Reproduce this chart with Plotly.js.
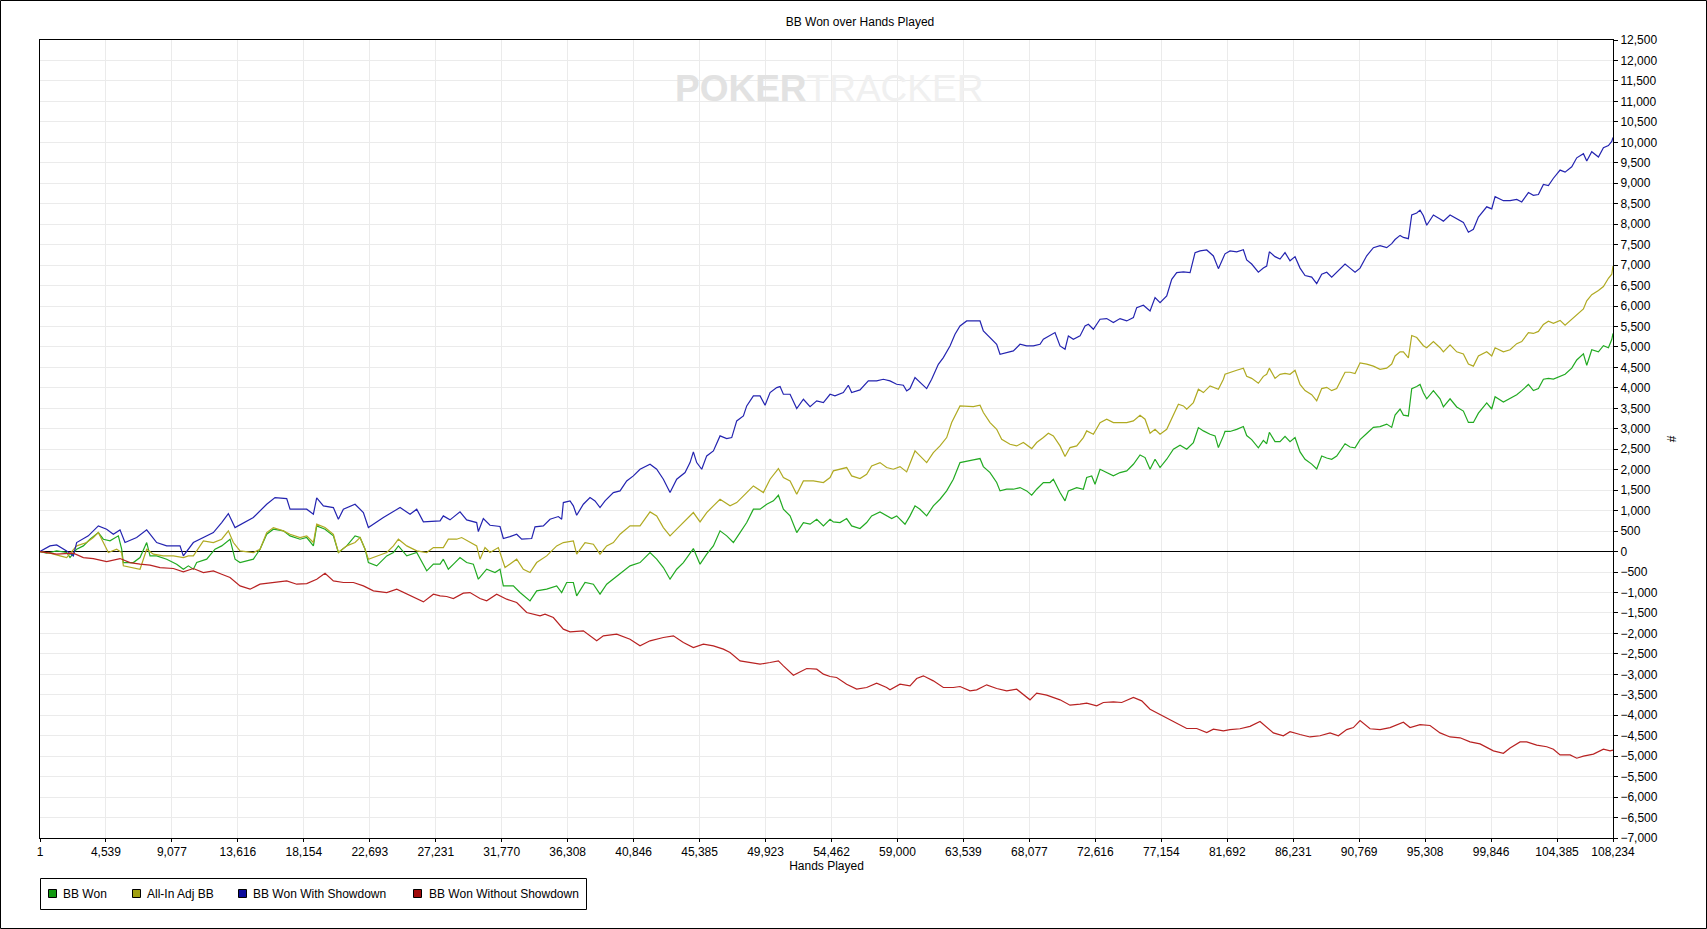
<!DOCTYPE html>
<html>
<head>
<meta charset="utf-8">
<script src="https://cdn.plot.ly/plotly-3.0.1.min.js"></script>
<style>
html,body{margin:0;padding:0;background:#fff;}
#chart{width:1707px;height:929px;}
</style>
</head>
<body>
<div id="chart"></div>
<script>
// ---------- Data ----------
const seriesNames = ['BB Won', 'All-In Adj BB', 'BB Won With Showdown', 'BB Won Without Showdown'];

const xTickVals = [1,4539,9077,13616,18154,22693,27231,31770,36308,40846,45385,49923,54462,59000,63539,68077,72616,77154,81692,86231,90769,95308,99846,104385,108234];
const xTickText = ['1','4,539','9,077','13,616','18,154','22,693','27,231','31,770','36,308','40,846','45,385','49,923','54,462','59,000','63,539','68,077','72,616','77,154','81,692','86,231','90,769','95,308','99,846','104,385','108,234'];

// BB Won (green)
const handsWon = [1,460,1148,1836,2066,2524,2983,3442,4015,4360,4818,5392,5621,5736,6424,6883,7342,7571,8030,8718,9406,9865,10209,10553,10783,11471,12044,12503,13077,13421,13765,14683,15141,15600,16059,16747,17206,17894,18353,18812,19041,19614,20188,20532,21106,21679,22023,22368,22597,23170,23859,24317,24661,25235,25923,26611,27070,27529,
27753,28097,28556,28900,29358,29817,30161,30735,31308,31653,31882,32570,33029,33717,34176,34864,35553,35896,36241,36699,36928,37502,38076,38534,38993,39452,40026,40599,41287,41975,42434,42893,43352,43811,44270,44957,45416,45875,46334,46793,47252,47710,48169,48628,49087,49546,50005,50464,50808,51151,51610,52069,52528,52987,53445,53904,54363,
54587,55045,55504,55848,56422,56881,57225,57798,58257,58601,58945,59519,59863,60207,60551,61010,61469,61927,62386,62845,63304,63763,64221,64680,64910,65369,65827,66057,66516,66974,67433,67892,68236,68580,69039,69498,69727,70186,70530,70760,71333,71792,72021,72365,72594,72939,73397,73856,74315,74774,75233,75691,76036,76380,76724,77068,77527,77985,78444,78903,79362,79706,80050,80509,80853,81082,81427,
81538,81882,82341,82800,83029,83373,83832,84176,84406,84589,84979,85323,85667,86011,86356,86700,87044,87503,87847,88191,88535,88879,89223,89797,90141,90485,90829,91288,91746,92205,92664,93008,93238,93582,93811,94155,94385,94729,94958,95187,95417,95876,96334,96564,97023,97481,97940,98284,98628,98973,99546,99890,100120,100693,101152,101611,101955,102414,102758,103102,103446,103790,104134,104593,104937,105396,105740,106199,106428,106772,107231,107575,107919,108149,108234];
const bbWon = [0,-41,16,-24,-147,57,138,301,464,301,261,383,57,-269,-269,-147,220,-106,-106,-187,-309,-432,-350,-432,-269,-187,57,138,301,-187,-269,-187,57,423,546,505,383,301,342,138,627,546,383,-24,138,383,342,57,-269,-350,-106,-24,138,-106,-24,-472,-309,-309,
-187,-432,-269,-147,-269,-309,-676,-432,-513,-432,-839,-839,-1002,-1205,-961,-920,-839,-1002,-757,-757,-1083,-757,-798,-1042,-798,-676,-513,-350,-269,-24,-187,-391,-676,-432,-269,73,-309,-65,138,505,383,220,464,708,1034,1034,1156,1238,1376,1034,871,464,708,668,790,627,790,
725,708,806,627,562,708,871,969,871,806,871,668,871,1116,1034,871,1116,1278,1482,1767,2174,2215,2239,2272,2076,1930,1686,1482,1523,1523,1563,1482,1376,1523,1686,1686,1767,1441,1238,1482,1563,1523,1808,1848,1645,2011,1930,1848,1930,1971,2133,2361,2296,2011,2256,2052,2256,2500,2598,2500,2663,3029,2948,2866,2826,2541,2826,
2934,2934,2984,3054,2834,2735,2535,2715,2635,2914,2685,2685,2814,2685,2784,2435,2255,2136,2016,2335,2285,2255,2335,2635,2555,2535,2735,2884,3034,3054,3114,3034,3333,3483,3333,3313,3982,4032,4082,3882,3733,3932,3733,3533,3733,3533,3433,3154,3154,3383,3633,3483,3782,3653,3733,3832,3932,4082,3932,3982,4212,4232,4212,4281,4331,4481,4681,4830,4551,4930,4880,5030,4980,5180,5329];

// All-In Adj BB (olive)
const handsAdj = [1,689,1377,1836,2524,3212,3671,4015,4360,4704,5277,5621,5736,6310,6883,7342,7801,8489,9177,9865,10209,10553,11242,11930,12503,12962,13306,13765,14683,15141,15600,16059,16747,17206,17894,18353,18812,19041,19614,20188,20532,21106,21679,22023,22368,22597,23170,23859,24317,24661,25235,25923,26611,27070,27529,
27753,28097,28670,29014,29588,30047,30276,30620,30964,31538,31997,32800,33258,33717,34176,34864,35553,36011,36699,36928,37502,38076,38534,38993,39452,39911,40599,41287,41975,42434,42893,43352,43811,44499,44957,45416,45875,46334,46793,47481,47940,48628,49087,49775,50234,50808,51151,51610,52069,52528,53216,53904,54363,
54587,55045,55504,55848,56422,56881,57225,57798,58257,58716,59175,59633,60207,60551,61010,61469,61927,62386,62730,63304,63763,64221,64680,64910,65369,65827,66171,66745,67203,67662,68236,68580,69039,69383,69727,70186,70530,70874,71333,71792,72021,72480,72939,73397,73856,74315,74774,75233,75691,76036,76380,76724,77068,77527,77985,78330,78674,78903,79362,79706,80050,80509,81082,81427,
81538,81882,82341,82800,83029,83373,83832,84176,84406,84589,84979,85323,85667,86011,86356,86700,87044,87503,87847,88191,88535,88879,89223,89797,90141,90485,90829,91288,91746,92205,92664,93008,93238,93582,93811,94155,94385,94729,94958,95187,95417,95876,96334,96564,97023,97481,97940,98284,98628,98973,99546,99890,100120,100693,101152,101611,101955,102414,102758,103102,103446,103790,104134,104593,104937,105396,105740,106199,106428,106772,107231,107575,107919,108149,108234];
const bbAdj = [0,-41,-106,-147,138,220,342,464,220,-24,57,-24,-350,-391,-432,57,-65,-106,-106,-147,-106,-106,261,220,301,505,220,16,-24,57,464,586,505,423,342,383,220,668,586,423,-24,138,220,342,57,-187,-106,-24,138,301,138,16,-24,98,98,
98,301,301,342,236,138,-187,98,-24,98,-391,-187,-432,-513,-269,-106,138,220,261,-65,220,179,-65,138,220,423,627,627,969,871,586,383,546,790,953,725,953,1116,1278,1116,1197,1441,1604,1441,1767,2028,1808,1726,1401,1726,1726,1686,1808,
1971,2011,2052,1848,1783,1889,2093,2174,2052,2011,2076,1946,2459,2337,2174,2418,2581,2785,3151,3558,3558,3542,3575,3396,3151,2988,2744,2622,2581,2663,2516,2663,2785,2891,2826,2581,2321,2541,2581,2785,2948,2866,3151,3233,3151,3151,3151,3192,3330,3233,2891,2988,2866,2988,3314,3599,3558,3477,3640,3966,3884,4047,3966,4210,
4331,4381,4431,4481,4281,4232,4112,4281,4331,4481,4232,4331,4351,4331,4431,4082,3932,3832,3683,3982,4012,3932,3982,4381,4381,4351,4611,4581,4531,4451,4481,4581,4780,4880,4880,4731,5279,5230,5130,5030,4980,5130,4980,4880,5050,4880,4830,4581,4531,4780,4880,4780,4980,4880,4930,5080,5130,5349,5329,5379,5549,5629,5579,5649,5529,5679,5778,5928,6128,6277,6377,6477,6677,6776,6976];

// BB Won With Showdown (blue)
const handsSD = [1,688,1147,1835,2294,2523,3326,4015,4588,5047,5506,5850,6653,7341,8029,8717,9635,9864,10552,11929,12502,12961,13420,14682,15599,16173,16976,17205,18352,18811,19040,19499,20187,20531,20875,21678,22252,22596,23628,24775,25463,25922,26381,27528,
27753,28211,28900,29358,30047,30161,30505,30964,31653,31882,32341,32800,33144,33832,34061,34635,35093,35667,35896,36011,36470,36699,36928,37387,37846,38190,38534,38879,39452,39911,40370,40828,41287,41975,42434,42893,43352,43811,44384,44728,44957,45187,45531,45875,46334,46793,47252,47596,47940,48399,48628,49087,49546,49890,50234,50693,50922,51151,51610,52069,52528,52987,53445,53904,54363,
54701,55275,55619,55848,56422,56995,57569,58028,58486,58945,59404,59633,59863,60207,60551,61010,61354,61813,62157,62616,62960,63304,63763,64221,64680,64910,65369,65827,66057,66516,66974,67433,67892,68351,68809,69039,69498,69842,70186,70530,70760,71103,71562,71906,72136,72480,72939,73397,73856,74315,74774,75233,75462,75921,76380,76724,77068,77527,77871,78215,78674,79133,79477,79821,80280,80738,81082,81427,
81538,81882,82341,82800,83029,83373,83832,84176,84406,84589,84979,85323,85667,86011,86356,86700,87044,87503,87847,88191,88535,88879,89223,89797,90141,90485,90829,91288,91746,92205,92664,93008,93238,93582,93811,94155,94385,94729,94958,95187,95417,95876,96334,96564,97023,97481,97940,98284,98628,98973,99546,99890,100120,100693,101152,101611,101955,102414,102758,103102,103446,103790,104134,104593,104937,105396,105740,106199,106428,106772,107231,107575,107919,108149,108234];
const bbSD = [0,138,163,16,-106,220,383,627,546,423,529,220,342,529,220,138,138,-106,220,464,708,928,586,831,1156,1319,1295,1034,1034,912,1311,1116,1075,790,1034,1156,953,586,831,1075,912,1034,725,749,
871,774,969,774,708,489,806,643,611,318,366,423,301,318,603,627,790,855,790,1197,1238,1116,888,1156,1319,1238,1075,1238,1441,1482,1726,1848,2011,2133,2011,1767,1441,1767,1930,2174,2435,2174,2011,2337,2459,2826,2761,2785,3192,3314,3558,3803,3803,3575,3884,4006,4031,3843,3843,3493,3721,3542,3681,3640,3843,
3803,3884,4063,3884,3949,4169,4169,4210,4169,4088,4063,3925,3982,4251,4128,3982,4210,4576,4739,5024,5309,5513,5635,5635,5635,5391,5228,5065,4821,4861,4902,5065,5024,5024,5065,5187,5269,5350,5024,4943,5269,5187,5269,5513,5554,5431,5676,5692,5594,5692,5635,5716,5961,6018,5879,6205,6083,6246,6653,6816,6832,6816,7304,7345,7369,7223,6913,7223,
7275,7345,7325,7375,7126,7026,6826,6926,6976,7325,7206,7146,7305,7106,7206,6926,6746,6707,6547,6776,6826,6707,6826,7026,6926,6826,6926,7226,7425,7475,7425,7525,7625,7725,7675,7645,8224,8273,8343,8204,7974,8224,8124,8074,8224,8144,8044,7804,7874,8174,8423,8373,8673,8573,8573,8603,8543,8772,8703,8723,8972,8942,9122,9321,9271,9401,9621,9721,9541,9770,9641,9870,9920,10020,10120];

// BB Won Without Showdown (red)
const handsNSD = [1,1148,2295,2983,3671,4589,5507,6195,6883,7571,8259,9177,9865,10553,11242,11930,12503,13077,13765,14453,15141,16059,16977,17665,18353,19041,19614,20188,20876,21565,22253,22941,23859,24547,25464,26382,27070,27529,
27982,28441,29129,29588,30276,30735,31423,32111,32800,33488,34405,34749,35323,36011,36470,37387,38305,38764,39682,40599,41287,41975,42893,43581,44270,44957,45646,46334,47022,47481,48169,48857,49546,50234,50808,51151,51839,52757,53445,53904,54363,
54816,55504,56192,56881,57569,58257,58486,59175,59863,60322,60780,61469,62157,62845,63304,63992,64450,65139,65827,66516,67204,67662,68121,68580,69268,70186,70874,71562,72021,72709,73168,73856,74430,75233,75806,76380,77068,77527,78215,78903,79592,80280,80738,81427,
81882,82570,83259,83947,84406,84864,85553,86011,86700,87388,88076,88764,89338,89911,90370,90829,91517,92205,92893,93811,94270,94958,95646,96334,97023,97711,98399,99087,100005,100693,101152,101840,102299,102987,103675,104134,104593,105282,105740,106199,106887,107575,108034,108234];
const bbNSD = [0,-65,-41,-147,-171,-244,-171,-269,-309,-334,-391,-415,-497,-415,-513,-472,-554,-635,-839,-920,-798,-757,-717,-798,-782,-676,-529,-717,-757,-757,-839,-961,-1002,-920,-1083,-1230,-1042,-1083,
-1099,-1148,-1018,-1002,-1148,-1205,-1042,-1164,-1246,-1490,-1572,-1531,-1612,-1897,-1962,-1938,-2182,-2060,-2019,-2142,-2304,-2182,-2101,-2060,-2223,-2345,-2264,-2304,-2386,-2467,-2671,-2712,-2752,-2712,-2671,-2793,-3021,-2858,-2874,-2997,-3054,
-3078,-3241,-3363,-3322,-3216,-3322,-3379,-3241,-3282,-3102,-3037,-3160,-3322,-3322,-3298,-3404,-3379,-3257,-3347,-3404,-3363,-3485,-3624,-3461,-3510,-3624,-3754,-3730,-3705,-3770,-3689,-3672,-3689,-3567,-3648,-3852,-3974,-4055,-4194,-4324,-4324,-4422,-4340,-4381,
-4351,-4331,-4271,-4152,-4301,-4431,-4501,-4401,-4471,-4531,-4501,-4431,-4501,-4351,-4301,-4132,-4331,-4351,-4301,-4172,-4301,-4231,-4251,-4431,-4531,-4551,-4651,-4701,-4870,-4930,-4800,-4651,-4651,-4730,-4770,-4830,-4970,-4970,-5050,-5000,-4950,-4830,-4870,-4850];

// ---------- Styling ----------
const lineColors = ['#22aa22', '#b0aa22', '#2424b0', '#b82222'];
const swatchColors = ['#119911', '#a0a011', '#0b0b9c', '#a00b0b'];
const seriesX = [handsWon, handsAdj, handsSD, handsNSD];
const seriesY = [bbWon, bbAdj, bbSD, bbNSD];

const traces = [];
for (let i = 0; i < seriesNames.length; i++) {
  traces.push({
    type: 'scatter', mode: 'lines', name: seriesNames[i],
    x: seriesX[i], y: seriesY[i],
    line: {color: lineColors[i], width: 1.2},
    showlegend: false, hoverinfo: 'x+y+name'
  });
}

const W = 1707, H = 929;
const L = 40, R = 1613, T = 40, B = 838;
const pw = R - L, ph = B - T;
const px = v => (v - L) / pw;
const py = v => (B - v) / ph;

// legend box drawn below the plot (pixel layout of the original tool)
const legendBox = {x0: 40, x1: 586, y0: 878, y1: 909};
const legendSwatchX = [48, 132, 238, 413];
const legendTextX = [61, 145, 251, 427];
const legendMidY = 893;

const shapes = [{
  type: 'rect', xref: 'paper', yref: 'paper', layer: 'above',
  x0: px(0.5), x1: px(W - 0.5), y0: py(H - 0.5), y1: py(0.5),
  line: {color: '#000', width: 1}, fillcolor: 'rgba(0,0,0,0)'
}, {
  type: 'rect', xref: 'paper', yref: 'paper', layer: 'above',
  x0: px(legendBox.x0 + 0.5), x1: px(legendBox.x1 + 0.5), y0: py(legendBox.y1 + 0.5), y1: py(legendBox.y0 + 0.5),
  line: {color: '#000', width: 1}, fillcolor: '#ffffff'
}];
const annotations = [{
  xref: 'paper', yref: 'paper', x: px(829), y: py(89), xanchor: 'center', yanchor: 'middle',
  text: '<b>POKER</b><span style="color:#f0f0f0">TRACKER</span>',
  showarrow: false,
  font: {family: '"Liberation Sans", Arial, sans-serif', size: 37, color: '#e2e2e2'}
}];
for (let i = 0; i < seriesNames.length; i++) {
  shapes.push({
    type: 'rect', xref: 'paper', yref: 'paper', layer: 'above',
    x0: px(legendSwatchX[i] + 0.5), x1: px(legendSwatchX[i] + 8.5),
    y0: py(legendMidY + 4.5), y1: py(legendMidY - 3.5),
    line: {color: '#000', width: 1}, fillcolor: swatchColors[i]
  });
  annotations.push({
    xref: 'paper', yref: 'paper', x: px(legendTextX[i]), y: py(legendMidY + 0.5),
    xanchor: 'left', yanchor: 'middle', showarrow: false, text: seriesNames[i],
    font: {size: 12, color: '#000'}
  });
}

const layout = {
  width: W, height: H,
  margin: {l: L, r: W - R, t: T, b: H - B, pad: 0},
  paper_bgcolor: '#ffffff', plot_bgcolor: '#ffffff',
  font: {family: '"Liberation Sans", Arial, sans-serif', size: 12, color: '#000'},
  title: {text: 'BB Won over Hands Played', x: 860 / W, xref: 'container', xanchor: 'center',
          y: 1 - 22 / H, yref: 'container', yanchor: 'middle', font: {size: 12, color: '#000'}},
  xaxis: {
    range: [1, 108234], tickvals: xTickVals, ticktext: xTickText,
    showgrid: true, gridcolor: '#ebebeb', gridwidth: 1,
    showline: true, linecolor: '#000', linewidth: 1, mirror: true,
    ticks: 'outside', ticklen: 3, tickcolor: '#000', tickwidth: 1,
    zeroline: false, fixedrange: true,
    tickfont: {size: 12},
    title: {text: 'Hands Played', standoff: 3, font: {size: 12}}
  },
  yaxis: {
    side: 'right', range: [-7000, 12500], tick0: 0, dtick: 500, tickformat: ',d',
    showgrid: true, gridcolor: '#ebebeb', gridwidth: 1,
    showline: true, linecolor: '#000', linewidth: 1, mirror: true,
    ticks: 'outside', ticklen: 4, tickcolor: '#000', tickwidth: 1,
    zeroline: true, zerolinecolor: '#000', zerolinewidth: 1, fixedrange: true,
    tickfont: {size: 12},
    title: {text: '#', standoff: 10, font: {size: 12}}
  },
  showlegend: false,
  annotations: annotations,
  shapes: shapes
};

Plotly.newPlot('chart', traces, layout, {displayModeBar: false, responsive: false});
</script>
</body>
</html>
